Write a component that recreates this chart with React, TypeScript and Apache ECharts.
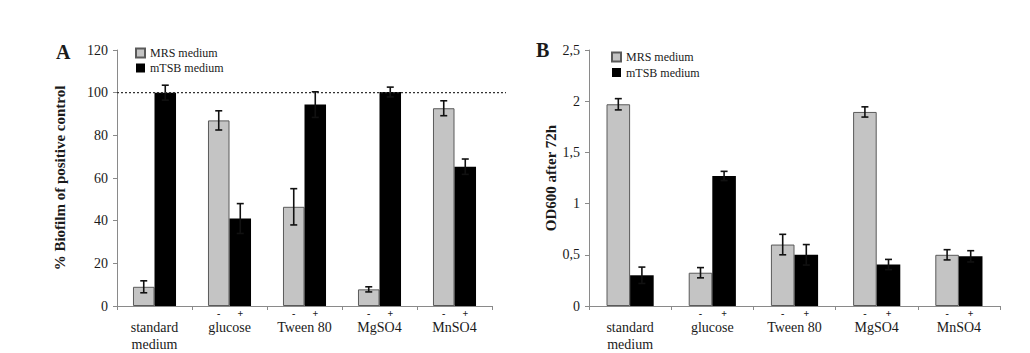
import React, { useEffect, useRef } from "react";
import * as echarts from "echarts";

const categories = ["standard\nmedium", "glucose", "Tween 80", "MgSO4", "MnSO4"];
const hasPlusMinus = [false, true, true, true, true];
const seriesNames = ["MRS medium", "mTSB medium"];

// Panel A: % biofilm of positive control
const mrsA = [9, 87, 46.5, 7.8, 92.7];
const mrsErrA = [2.8, 4.5, 8.5, 1.2, 3.5];
const mtsbA = [100, 41, 94.4, 100.3, 65.3];
const mtsbErrA = [3.5, 7, 6, 2.3, 3.6];
const referenceLineA = 100;

// Panel B: OD600 after 72h
const mrsB = [1.97, 0.325, 0.6, 1.895, 0.5];
const mrsErrB = [0.055, 0.05, 0.1, 0.05, 0.05];
const mtsbB = [0.3, 1.27, 0.5, 0.405, 0.485];
const mtsbErrB = [0.08, 0.045, 0.1, 0.05, 0.055];

const FONT = "Liberation Serif";
const GRAY = "#c4c4c4";
const BAR_FRAC = 0.287;
const AXIS_COLOR = "#8a8a8a";
const TEXT = "#1a1a1a";

function makeFormatter() {
  return (value: string) => {
    const idx = categories.indexOf(value);
    const pm = hasPlusMinus[idx] ? "{m|-}{p|+}" : "{m| }{p| }";
    const names = value
      .split("\n")
      .map((s) => `{c|${s}}`)
      .join("\n");
    return pm + "\n" + names;
  };
}

function richFor(barW: number) {
  return {
    m: { width: barW, align: "center", fontSize: 10, fontWeight: "bold", lineHeight: 12, fontFamily: FONT, color: TEXT },
    p: { width: barW, align: "center", fontSize: 10, fontWeight: "bold", lineHeight: 12, fontFamily: FONT, color: TEXT },
    c: { fontSize: 14, lineHeight: 17, fontFamily: FONT, color: TEXT },
  };
}

function errorSeries(
  name: string,
  xAxisIndex: number,
  yAxisIndex: number,
  values: number[],
  errs: number[],
  side: number
) {
  return {
    type: "custom",
    name: name + " error",
    xAxisIndex,
    yAxisIndex,
    z: 5,
    silent: true,
    encode: { x: 0, y: 1 },
    data: values.map((v, i) => [i, v, errs[i]]),
    renderItem: (params: any, api: any) => {
      const cat = api.value(0);
      const v = api.value(1);
      const e = api.value(2);
      const band = api.size([1, 0])[0];
      const off = (side * band * BAR_FRAC) / 2;
      const top = api.coord([cat, v + e]);
      const bot = api.coord([cat, v - e]);
      const x = top[0] + off;
      const cap = 3.5;
      const style = { stroke: "#111", lineWidth: 1.6 };
      return {
        type: "group",
        children: [
          { type: "line", shape: { x1: x, y1: top[1], x2: x, y2: bot[1] }, style },
          { type: "line", shape: { x1: x - cap, y1: top[1], x2: x + cap, y2: top[1] }, style },
          { type: "line", shape: { x1: x - cap, y1: bot[1], x2: x + cap, y2: bot[1] }, style },
        ],
      };
    },
  };
}

function barSeries(name: string, xAxisIndex: number, yAxisIndex: number, values: number[], gray: boolean) {
  return {
    type: "bar",
    name,
    xAxisIndex,
    yAxisIndex,
    data: values,
    barWidth: BAR_FRAC * 100 + "%",
    barGap: "0%",
    itemStyle: gray
      ? { color: GRAY, borderColor: "#5a5a5a", borderWidth: 1 }
      : { color: "#000", borderColor: "#000", borderWidth: 0 },
  };
}

export default function App() {
  const ref = useRef<HTMLDivElement>(null);

  useEffect(() => {
    if (!ref.current) return;
    const chart = echarts.init(ref.current, null, { renderer: "svg" });

    const xAxisCommon = {
      type: "category",
      data: categories,
      axisLine: { show: true, lineStyle: { color: AXIS_COLOR, width: 1 } },
      axisTick: { show: true, length: 4, lineStyle: { color: AXIS_COLOR } },
      splitLine: { show: false },
    };
    const yAxisCommon = {
      type: "value",
      min: 0,
      axisLine: { show: true, lineStyle: { color: AXIS_COLOR, width: 1 } },
      axisTick: { show: true, length: 4, inside: false, lineStyle: { color: AXIS_COLOR } },
      splitLine: { show: false },
      nameLocation: "middle",
      nameTextStyle: { fontFamily: FONT, fontSize: 15, fontWeight: "bold", color: TEXT },
    };

    const legendText = { fontFamily: FONT, fontSize: 12, color: TEXT };

    const option: any = {
      animation: false,
      backgroundColor: "#fff",
      textStyle: { fontFamily: FONT, color: TEXT },
      title: [
        { text: "A", left: 51, top: 37, textStyle: { fontFamily: FONT, fontSize: 20, fontWeight: "bold", color: TEXT } },
        { text: "B", left: 531, top: 35, textStyle: { fontFamily: FONT, fontSize: 20, fontWeight: "bold", color: TEXT } },
      ],
      legend: [
        {
          data: seriesNames,
          orient: "vertical",
          left: 130,
          top: 42,
          itemWidth: 9,
          itemHeight: 9,
          itemGap: 3,
          icon: "rect",
          textStyle: legendText,
        },
        {
          data: seriesNames,
          orient: "vertical",
          left: 606,
          top: 46,
          itemWidth: 9,
          itemHeight: 9,
          itemGap: 3.5,
          icon: "rect",
          textStyle: legendText,
        },
      ],
      grid: [
        { left: 117, right: 538, top: 50, bottom: 47 },
        { left: 589, right: 30, top: 50, bottom: 47 },
      ],
      xAxis: [
        {
          ...xAxisCommon,
          gridIndex: 0,
          axisLabel: { interval: 0, margin: 1, fontFamily: FONT, formatter: makeFormatter(), rich: richFor(21.5) },
        },
        {
          ...xAxisCommon,
          gridIndex: 1,
          axisLabel: { interval: 0, margin: 1, fontFamily: FONT, formatter: makeFormatter(), rich: richFor(23.6) },
        },
      ],
      yAxis: [
        {
          ...yAxisCommon,
          gridIndex: 0,
          max: 120,
          interval: 20,
          name: "% Biofilm of positive control",
          nameGap: 50,
          axisLabel: { fontFamily: FONT, fontSize: 14, color: TEXT, margin: 9 },
        },
        {
          ...yAxisCommon,
          gridIndex: 1,
          max: 2.5,
          interval: 0.5,
          name: "OD600 after 72h",
          nameGap: 31,
          axisLabel: {
            fontFamily: FONT,
            fontSize: 14,
            color: TEXT,
            margin: 9,
            formatter: (v: number) => String(v).replace(".", ","),
          },
        },
      ],
      series: [
        barSeries(seriesNames[0], 0, 0, mrsA, true),
        barSeries(seriesNames[1], 0, 0, mtsbA, false),
        errorSeries(seriesNames[0], 0, 0, mrsA, mrsErrA, -1),
        errorSeries(seriesNames[1], 0, 0, mtsbA, mtsbErrA, 1),
        barSeries(seriesNames[0], 1, 1, mrsB, true),
        barSeries(seriesNames[1], 1, 1, mtsbB, false),
        errorSeries(seriesNames[0], 1, 1, mrsB, mrsErrB, -1),
        errorSeries(seriesNames[1], 1, 1, mtsbB, mtsbErrB, 1),
      ],
    };

    chart.setOption(option);

    const yRef = chart.convertToPixel({ yAxisIndex: 0 } as any, referenceLineA) as number;
    chart.setOption({
      graphic: [
        {
          type: "line",
          silent: true,
          z: 10,
          shape: { x1: 117, y1: yRef, x2: 506, y2: yRef },
          style: { stroke: "#333", lineWidth: 1.3, lineDash: [2, 2] },
        },
      ],
    });

    return () => chart.dispose();
  }, []);

  return (
    <div
      ref={ref}
      style={{ position: "fixed", left: 0, top: 0, width: 1030, height: 353, background: "#fff" }}
    />
  );
}
